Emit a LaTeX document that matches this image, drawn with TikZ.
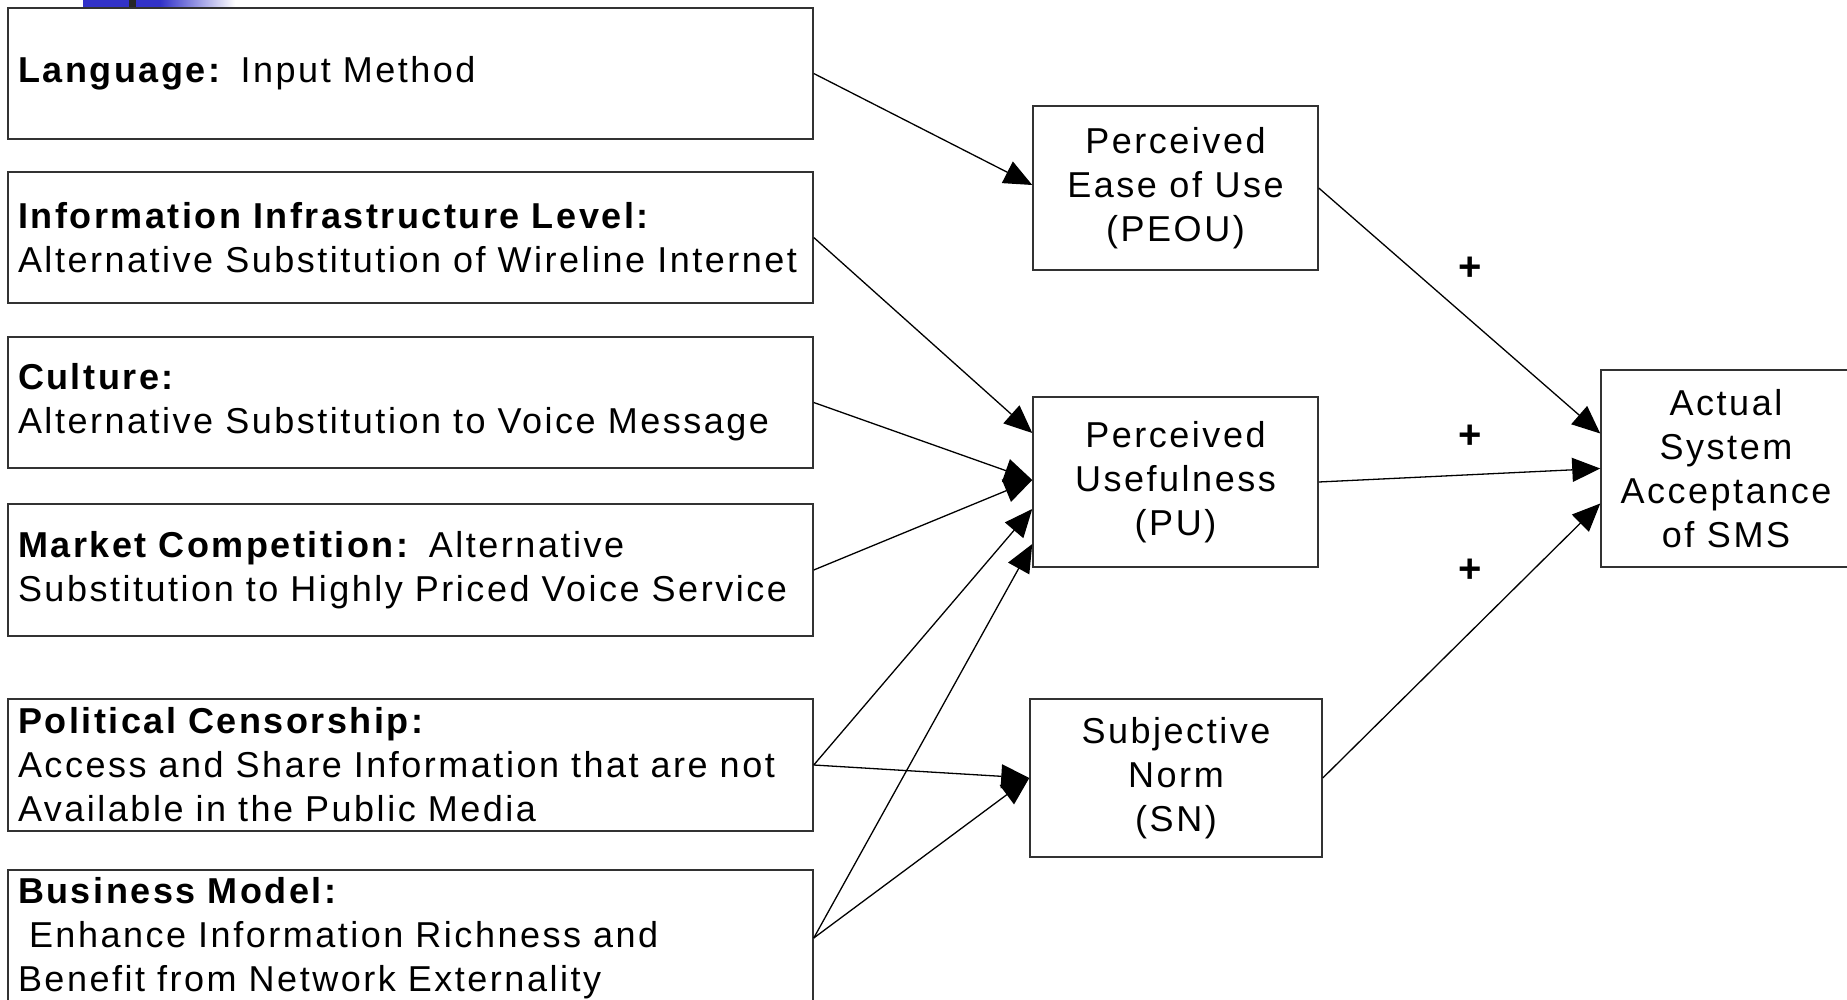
\documentclass[tikz,border=0pt]{standalone}
\usepackage{fontspec}
\setmainfont{Liberation Sans}[LetterSpace=7]
\usetikzlibrary{arrows.meta}
\definecolor{slideblue}{RGB}{50,50,200}
\definecolor{boxline}{RGB}{50,50,50}
\begin{document}
\begin{tikzpicture}[x=1pt,y=-1pt,
  every node/.style={font=\fontsize{36}{44}\selectfont},
  lbox/.style={draw=boxline,line width=1.5pt,text width=785pt,inner xsep=10pt,inner ysep=0pt,align=left,anchor=center},
  rbox/.style={draw=boxline,line width=1.5pt,align=center,inner sep=0pt,anchor=center},
  conn/.style={draw=black,line width=1.3pt,-{Triangle[length=28pt,width=24pt]}},
  plus/.style={font=\fontsize{40}{44}\selectfont\bfseries,inner sep=0pt}]
\useasboundingbox (0,0) rectangle (1847,1000);
% slide decoration
\fill[slideblue] (83,0) rectangle (160,7);
\shade[left color=slideblue,right color=white] (160,0) rectangle (235,7);
\fill[black!85] (129,0) rectangle (136,7);
% left boxes
\node[lbox,minimum height=131pt] (B1) at (410.5,73.5) {\textbf{Language:} Input Method};
\node[lbox,minimum height=131pt] (B2) at (410.5,237.5) {\textbf{Information Infrastructure Level:}\\Alternative Substitution of Wireline Internet};
\node[lbox,minimum height=131pt] (B3) at (410.5,402.5) {\textbf{Culture:}\\Alternative Substitution to Voice Message};
\node[lbox,minimum height=132pt] (B4) at (410.5,570) {\textbf{Market Competition:} Alternative\\Substitution to Highly Priced Voice Service};
\node[lbox,minimum height=132pt] (B5) at (410.5,765) {\textbf{Political Censorship:}\\Access and Share Information that are not\\Available in the Public Media};
\node[lbox,minimum height=136pt] (B6) at (410.5,938) {\textbf{Business Model:}\\\hspace*{11pt}Enhance Information Richness and\\Benefit from Network Externality};
% middle boxes
\node[rbox,minimum width=285pt,minimum height=164pt] (PEOU) at (1175.5,188) {Perceived\\Ease of Use\\(PEOU)};
\node[rbox,minimum width=285pt,minimum height=170pt] (PU) at (1175.5,482) {Perceived\\Usefulness\\(PU)};
\node[rbox,minimum width=292pt,minimum height=158pt] (SN) at (1176,778) {Subjective\\Norm\\(SN)};
\node[rbox,minimum width=250pt,minimum height=197pt] (ASA) at (1726,468.5) {Actual\\System\\Acceptance\\of SMS};
% plus signs
\node[plus] (p1) at (1470,269) {+};
\node[plus] (p2) at (1470,437) {+};
\node[plus] (p3) at (1470,571) {+};
% connectors
\draw[conn] (B1.east) -- ([yshift=3pt]PEOU.west);
\draw[conn] (B2.east) -- ([yshift=49pt]PU.west);
\draw[conn] (B3.east) -- ([yshift=2pt]PU.west);
\draw[conn] (B4.east) -- ([yshift=2pt]PU.west);
\draw[conn] (B5.east) -- ([yshift=-27pt]PU.west);
\draw[conn] (B6.east) -- ([yshift=-62pt]PU.west);
\draw[conn] (B5.east) -- (SN.west);
\draw[conn] (B6.east) -- (SN.west);
\draw[conn] (PEOU.east) -- ([yshift=35pt]ASA.west);
\draw[conn] (PU.east) -- (ASA.west);
\draw[conn] (SN.east) -- ([yshift=-35pt]ASA.west);
\end{tikzpicture}
\end{document}
